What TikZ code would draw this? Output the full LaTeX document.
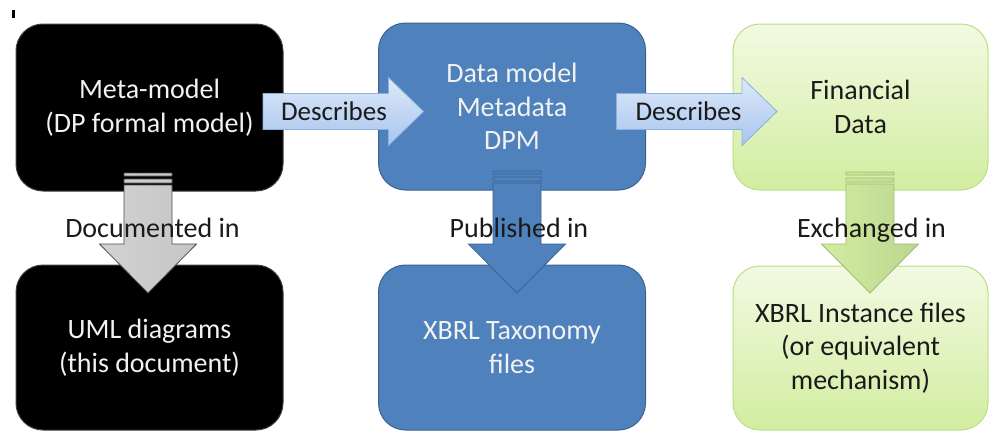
\documentclass[tikz,border=0pt]{standalone}
\usepackage{fontspec}
\setmainfont{Carlito}
\usetikzlibrary{calc}
\definecolor{bluefill}{HTML}{4F81BD}
\definecolor{blueline}{HTML}{3A6393}
\definecolor{greentop}{HTML}{F2FAE2}
\definecolor{greenbot}{HTML}{D2EDA0}
\definecolor{greenline}{HTML}{BEDC86}
\definecolor{lbtop}{HTML}{DDE9F9}
\definecolor{lbbot}{HTML}{A8C5EE}
\definecolor{lbline}{HTML}{8DB0DE}
\definecolor{txtwhite}{HTML}{F2F2F2}
\definecolor{txtdark}{HTML}{1A1A1A}

% striped down block arrow: #1 style, #2 top coordinate, #3 tip coordinate
\newcommand\stripedown[3]{%
  \path[#1] let \p1=(#2), \p2=(#3) in
    (\x1-24pt,\y1) rectangle (\x1+24pt,\y1-3pt)
    (\x1-24pt,\y1-6pt) rectangle (\x1+24pt,\y1-10pt)
    (\x1-24pt,\y1-12pt) -- (\x1+24pt,\y1-12pt) -- (\x1+24pt,\y2+49pt)
    -- (\x1+48.5pt,\y2+49pt) -- (\x1,\y2) -- (\x1-48.5pt,\y2+49pt)
    -- (\x1-24pt,\y2+49pt) -- cycle;}
% right block arrow: #1 style, #2 start coordinate, #3 tip coordinate
\newcommand\rightblock[3]{%
  \path[#1] let \p1=(#2), \p2=(#3) in
    (\x1,\y1+18pt) -- (\x2-35pt,\y1+18pt) -- (\x2-35pt,\y1+34pt) -- (\x2,\y1)
    -- (\x2-35pt,\y1-34pt) -- (\x2-35pt,\y1-18pt) -- (\x1,\y1-18pt) -- cycle;}

\begin{document}
\begin{tikzpicture}[x=1pt,y=-1pt,
  font=\fontsize{28}{33.5}\selectfont,
  box/.style={rounded corners=27pt, minimum width=267pt, align=center,
    inner sep=0pt, outer sep=0pt, line width=1pt},
  blackbox/.style={box, fill=black, draw=black!75, text=txtwhite},
  bluebox/.style={box, fill=bluefill, draw=blueline, text=txtwhite},
  greenbox/.style={box, top color=greentop, bottom color=greenbot, draw=greenline, text=txtdark},
  grayarrow/.style={draw=gray!60!black, line width=0.8pt, left color=gray!35, middle color=gray!6, right color=gray!45},
  bluearrow/.style={draw=blueline, line width=0.8pt, fill=bluefill},
  greenarrow/.style={draw=greenline!85!black, line width=0.8pt, left color=greenbot, middle color=greentop!50!greenbot, right color=greenbot!90!black},
  lbarrow/.style={draw=lbline, line width=0.8pt, top color=lbtop, bottom color=lbbot},
  lbl/.style={text=txtdark, inner sep=0pt}]

\path[use as bounding box, fill=white] (0,0) rectangle (989,432);
\fill[black] (12,10) rectangle (14.5,18);

% boxes
\node[blackbox, minimum height=167pt] (meta) at (149.5,107.5) {Meta-model\\(DP formal model)};
\node[blackbox, minimum height=165pt] (uml) at (149.5,347.5) {UML diagrams\\(this document)};
\node[bluebox, minimum height=167pt] (dm) at (512,106.5) {Data model\\Metadata\\DPM};
\node[bluebox, minimum height=165pt] (tax) at (512,347.5) {XBRL Taxonomy\\files};
\node[greenbox, minimum width=255pt, minimum height=166pt] (fin) at (860.5,107) {Financial\\Data};
\node[greenbox, minimum width=255pt, minimum height=164pt] (inst) at (860.5,348) {XBRL Instance files\\(or equivalent\\mechanism)};

% connector end points
\coordinate (a1s) at ($(meta.south)+(-1.5,-18)$);
\coordinate (a1e) at ($(uml.north)+(-1.5,28)$);
\coordinate (a2s) at ($(dm.south)+(5,-19)$);
\coordinate (a2e) at ($(tax.north)+(5,28)$);
\coordinate (a3s) at ($(fin.south)+(9.5,-18)$);
\coordinate (a3e) at ($(inst.north)+(9.5,27)$);
\coordinate (r1s) at ($(meta.east)+(-20,4)$);
\coordinate (r1e) at ($(dm.west)+(45,5)$);
\coordinate (r2s) at ($(dm.east)+(-29,5)$);
\coordinate (r2e) at ($(fin.west)+(44,4.5)$);

% block arrows
\stripedown{grayarrow}{a1s}{a1e}
\stripedown{bluearrow}{a2s}{a2e}
\stripedown{greenarrow}{a3s}{a3e}
\rightblock{lbarrow}{r1s}{r1e}
\rightblock{lbarrow}{r2s}{r2e}

% labels
\node[lbl, font=\fontsize{27}{32}\selectfont] (d1) at ($(r1s)+(71,0)$) {Describes};
\node[lbl, font=\fontsize{27}{32}\selectfont] (d2) at ($(r2s)+(72,0)$) {Describes};
\node[lbl, anchor=base] (l1) at (152.5,237) {Documented in};
\node[lbl, anchor=base] (l2) at (519,237) {Published in};
\node[lbl, anchor=base] (l3) at (871.5,237) {Exchanged in};
\end{tikzpicture}
\end{document}
